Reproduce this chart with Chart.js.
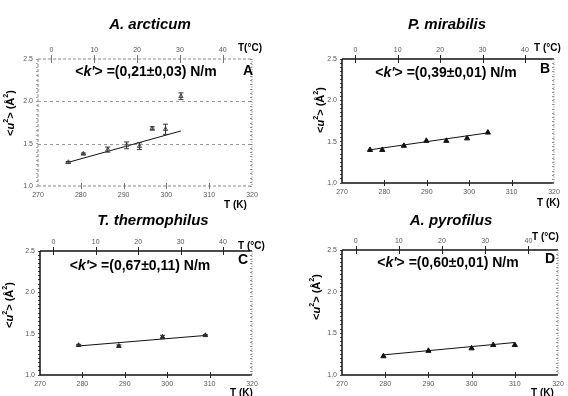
<!DOCTYPE html>
<html><head><meta charset="utf-8">
<script src="https://cdn.jsdelivr.net/npm/chart.js@4.4.1/dist/chart.umd.min.js"></script>
<style>
html,body{margin:0;padding:0;background:#fff;width:568px;height:396px;overflow:hidden;position:relative;font-family:"Liberation Sans",Arial,sans-serif;}
canvas{position:absolute;}
.t{position:absolute;white-space:nowrap;color:#000;line-height:1;}
.c{transform:translate(-50%,-50%);}
.l{transform:translate(0,-50%);}
.title{font-size:15px;font-weight:bold;font-style:italic;}
.kk{font-size:14px;font-weight:bold;}
.let{font-size:14px;font-weight:bold;}
.ax{font-size:10px;font-weight:bold;}
.yt{font-size:11px;font-weight:bold;transform:translate(-50%,-50%) rotate(-90deg);}
sup{font-size:65%;vertical-align:top;position:relative;top:-2px;}
</style></head><body>
<script>
// ---- data ----
const panelTitles = ['A. arcticum', 'P. mirabilis', 'T. thermophilus', 'A. pyrofilus'];
const panelLetters = ['A', 'B', 'C', 'D'];
const kValues = ['=(0,21±0,03) N/m', '=(0,39±0,01) N/m', '=(0,67±0,11) N/m', '=(0,60±0,01) N/m'];
const kelvinTicks = [270, 280, 290, 300, 310, 320];
const celsiusTicks = [0, 10, 20, 30, 40];
const msdTicks = [1.0, 1.5, 2.0, 2.5];

const tempA = [277.1, 280.6, 286.3, 290.7, 293.7, 296.7, 299.8, 303.4];
const msdA  = [1.28, 1.38, 1.43, 1.48, 1.47, 1.68, 1.67, 2.06];
const errA  = [0.01, 0.01, 0.03, 0.04, 0.04, 0.02, 0.06, 0.04];
const fitTempA = [276.4, 303.4];
const fitMsdA  = [1.27, 1.65];
const gridA = [1.5, 2.0];

const tempB = [276.6, 279.5, 284.6, 289.9, 294.6, 299.5, 304.4];
const msdB  = [1.40, 1.40, 1.45, 1.51, 1.51, 1.54, 1.61];
const fitTempB = [276.4, 304.9];
const fitMsdB  = [1.40, 1.61];

const tempC = [279.1, 288.6, 298.9, 309.0];
const msdC  = [1.36, 1.35, 1.46, 1.48];
const errC  = [0.01, 0.015, 0.02, 0.01];
const fitTempC = [278.8, 309.4];
const fitMsdC  = [1.35, 1.48];

const tempD = [279.6, 290.0, 300.0, 305.0, 310.0];
const msdD  = [1.225, 1.29, 1.32, 1.36, 1.36];
const fitTempD = [279.3, 310.0];
const fitMsdD  = [1.24, 1.39];

// ---- helpers ----
function pts(xs, ys) { return xs.map((x, i) => ({x: x, y: ys[i]})); }
function addText(html, cls, x, y) {
  const d = document.createElement('div');
  d.className = 't ' + cls;
  d.innerHTML = html;
  d.style.left = x + 'px'; d.style.top = y + 'px';
  document.body.appendChild(d);
}
const tickFont = {family: 'Liberation Sans', size: 7};
const tickColor = '#555';

const framePlugin = {
  id: 'frame',
  beforeDatasetsDraw(chart) {
    const o = chart.options.plugins.frame;
    const {ctx, chartArea: a} = chart;
    const ys = chart.scales.y;
    ctx.save();
    (o.hLines || []).forEach(v => {
      const py = Math.round(ys.getPixelForValue(v)) + 0.5;
      ctx.strokeStyle = '#999'; ctx.lineWidth = 1; ctx.setLineDash([3, 3]);
      ctx.beginPath(); ctx.moveTo(a.left, py); ctx.lineTo(a.right, py); ctx.stroke();
    });
    ctx.restore();
  },
  afterDatasetsDraw(chart) {
    const o = chart.options.plugins.frame;
    const {ctx, chartArea: a} = chart;
    const xs = chart.scales.x, xc = chart.scales.xc, ys = chart.scales.y;
    ctx.save();
    chart.data.datasets.forEach(ds => {
      if (!ds.errors) return;
      ctx.strokeStyle = '#333'; ctx.lineWidth = 1; ctx.setLineDash([]);
      ds.data.forEach((p, i) => {
        const px = xs.getPixelForValue(p.x);
        const y1 = ys.getPixelForValue(p.y + ds.errors[i]);
        const y2 = ys.getPixelForValue(p.y - ds.errors[i]);
        ctx.beginPath();
        ctx.moveTo(px, y1); ctx.lineTo(px, y2);
        ctx.moveTo(px - 2.5, y1); ctx.lineTo(px + 2.5, y1);
        ctx.moveTo(px - 2.5, y2); ctx.lineTo(px + 2.5, y2);
        ctx.stroke();
      });
    });
    const side = (x1, y1, x2, y2, st) => {
      ctx.strokeStyle = st.color; ctx.lineWidth = st.width; ctx.setLineDash(st.dash || []);
      ctx.beginPath(); ctx.moveTo(x1, y1); ctx.lineTo(x2, y2); ctx.stroke();
    };
    side(a.left, a.top, a.right, a.top, o.top);
    side(a.left, a.bottom, a.right, a.bottom, o.bottom);
    side(a.left, a.top, a.left, a.bottom, o.left);
    side(a.right, a.top, a.right, a.bottom, o.right);
    ctx.setLineDash([]); ctx.lineWidth = 1; ctx.strokeStyle = o.tickColor;
    kelvinTicks.forEach(v => {
      if (v === 270 || v === 320) return;
      const px = Math.round(xs.getPixelForValue(v)) + 0.5;
      ctx.beginPath(); ctx.moveTo(px, a.bottom - 3); ctx.lineTo(px, a.bottom + 3); ctx.stroke();
    });
    celsiusTicks.forEach(v => {
      const px = Math.round(xc.getPixelForValue(v)) + 0.5;
      ctx.beginPath(); ctx.moveTo(px, a.top - 4); ctx.lineTo(px, a.top + 4); ctx.stroke();
    });
    ctx.strokeStyle = o.right.color; ctx.lineWidth = 0.8;
    for (let k = 0; k <= 30; k++) {
      const py = Math.round(ys.getPixelForValue(1 + k * 0.05)) + 0.5;
      ctx.beginPath(); ctx.moveTo(a.right - 2, py); ctx.lineTo(a.right, py); ctx.stroke();
    }
    ctx.restore();
  }
};

function makePanel(area, datasets, frame) {
  const padL = 40, padT = 32, padR = 16, padB = 22;
  const w = Math.round(area.R - area.L) + padL + padR;
  const h = Math.round(area.B - area.T) + padT + padB;
  const cv = document.createElement('canvas');
  cv.width = w; cv.height = h;
  cv.style.left = (Math.round(area.L) - padL) + 'px';
  cv.style.top = (Math.round(area.T) - padT) + 'px';
  cv.style.width = w + 'px'; cv.style.height = h + 'px';
  document.body.appendChild(cv);
  new Chart(cv, {
    type: 'scatter',
    data: {datasets: datasets},
    options: {
      responsive: false, animation: false, devicePixelRatio: 1,
      layout: {padding: 0},
      plugins: {legend: {display: false}, tooltip: {enabled: false}, title: {display: false}, frame: frame},
      scales: {
        x: {
          type: 'linear', position: 'bottom', min: kelvinTicks[0], max: kelvinTicks[kelvinTicks.length - 1],
          afterFit(s) { s.height = padB; },
          afterBuildTicks(s) { s.ticks = kelvinTicks.map(v => ({value: v})); },
          ticks: {font: tickFont, color: tickColor, padding: 3, maxRotation: 0, autoSkip: false},
          grid: {drawOnChartArea: false, drawTicks: true, tickLength: 2, color: 'rgba(0,0,0,0)'},
          border: {display: false}
        },
        xc: {
          type: 'linear', position: 'top', min: kelvinTicks[0] - 273.15, max: kelvinTicks[kelvinTicks.length - 1] - 273.15,
          afterFit(s) { s.height = padT; },
          afterBuildTicks(s) { s.ticks = celsiusTicks.map(v => ({value: v})); },
          ticks: {font: tickFont, color: tickColor, padding: 3, maxRotation: 0, autoSkip: false},
          grid: {drawOnChartArea: false, tickLength: 2, color: 'rgba(0,0,0,0)'},
          border: {display: false}
        },
        y: {
          type: 'linear', position: 'left', min: msdTicks[0], max: msdTicks[msdTicks.length - 1],
          afterFit(s) { s.width = padL; },
          ticks: {stepSize: 0.05, autoSkip: false, font: tickFont, color: tickColor, padding: 3,
            callback(v) { return msdTicks.some(t => Math.abs(t - v) < 1e-6) ? Number(v).toFixed(1) : ''; }},
          grid: {drawOnChartArea: false, tickLength: 2, color: frame.left.color, lineWidth: 0.8},
          border: {display: false}
        },
        yr: {
          type: 'linear', position: 'right', min: msdTicks[0], max: msdTicks[msdTicks.length - 1],
          afterFit(s) { s.width = padR; },
          ticks: {display: false}, grid: {display: false}, border: {display: false}
        }
      }
    },
    plugins: [framePlugin]
  });
}

function markerSet(xs, ys, errs, style) {
  const ds = {
    type: 'scatter', data: pts(xs, ys), pointStyle: 'triangle',
    pointRadius: style.r, backgroundColor: style.fill, borderColor: style.stroke, borderWidth: 1, showLine: false, order: 1
  };
  if (errs) ds.errors = errs;
  return ds;
}
function fitSet(xs, ys) {
  return {type: 'line', data: pts(xs, ys), borderColor: '#111', borderWidth: 1, pointRadius: 0, showLine: true, fill: false, order: 2};
}

const solid = {color: '#111', width: 1.5};
const dotted = {color: '#777', width: 1, dash: [1, 1.5]};
const grayDash = {color: '#8a8a8a', width: 1, dash: [3, 2]};

makePanel({L: 37.7, R: 252, T: 58.7, B: 185.3},
  [markerSet(tempA, msdA, errA, {r: 2.5, fill: '#ddd', stroke: '#555'}), fitSet(fitTempA, fitMsdA)],
  {top: grayDash, bottom: grayDash, left: grayDash, right: dotted, tickColor: '#777', hLines: gridA});
makePanel({L: 341.7, R: 553.3, T: 59.3, B: 183.3},
  [markerSet(tempB, msdB, null, {r: 3, fill: '#111', stroke: '#111'}), fitSet(fitTempB, fitMsdB)],
  {top: solid, bottom: solid, left: solid, right: dotted, tickColor: '#222'});
makePanel({L: 40.3, R: 252.3, T: 251.3, B: 375.3},
  [markerSet(tempC, msdC, errC, {r: 2.5, fill: '#222', stroke: '#222'}), fitSet(fitTempC, fitMsdC)],
  {top: solid, bottom: solid, left: solid, right: dotted, tickColor: '#222'});
makePanel({L: 341.7, R: 557.3, T: 249.7, B: 374.7},
  [markerSet(tempD, msdD, null, {r: 3, fill: '#111', stroke: '#111'}), fitSet(fitTempD, fitMsdD)],
  {top: solid, bottom: solid, left: solid, right: dotted, tickColor: '#222'});

// ---- texts ----
const kPre = '&lt;<i>k\'</i>&gt; ';
const yTitle = '&lt;<i>u</i><sup>2</sup>&gt; (Å<sup>2</sup>)';
addText(panelTitles[0], 'title c', 150, 23);
addText(panelTitles[1], 'title c', 447, 23);
addText(panelTitles[2], 'title c', 153, 219);
addText(panelTitles[3], 'title c', 451, 219);
addText(kPre + kValues[0], 'kk c', 146, 71);
addText(kPre + kValues[1], 'kk c', 446, 72);
addText(kPre + kValues[2], 'kk c', 140, 265);
addText(kPre + kValues[3], 'kk c', 448, 262);
addText(panelLetters[0], 'let c', 248, 70);
addText(panelLetters[1], 'let c', 545, 68);
addText(panelLetters[2], 'let c', 243, 259);
addText(panelLetters[3], 'let c', 550, 258);
addText('T(°C)', 'ax l', 238, 48);
addText('T (°C)', 'ax l', 534, 48);
addText('T (°C)', 'ax l', 238, 246);
addText('T (°C)', 'ax l', 532, 237);
addText('T (K)', 'ax l', 224, 205);
addText('T (K)', 'ax l', 537, 203);
addText('T (K)', 'ax l', 230, 393);
addText('T (K)', 'ax l', 531, 393);
addText(yTitle, 'yt', 10, 113);
addText(yTitle, 'yt', 320, 110);
addText(yTitle, 'yt', 9, 305);
addText(yTitle, 'yt', 316, 297);
</script>
</body></html>
